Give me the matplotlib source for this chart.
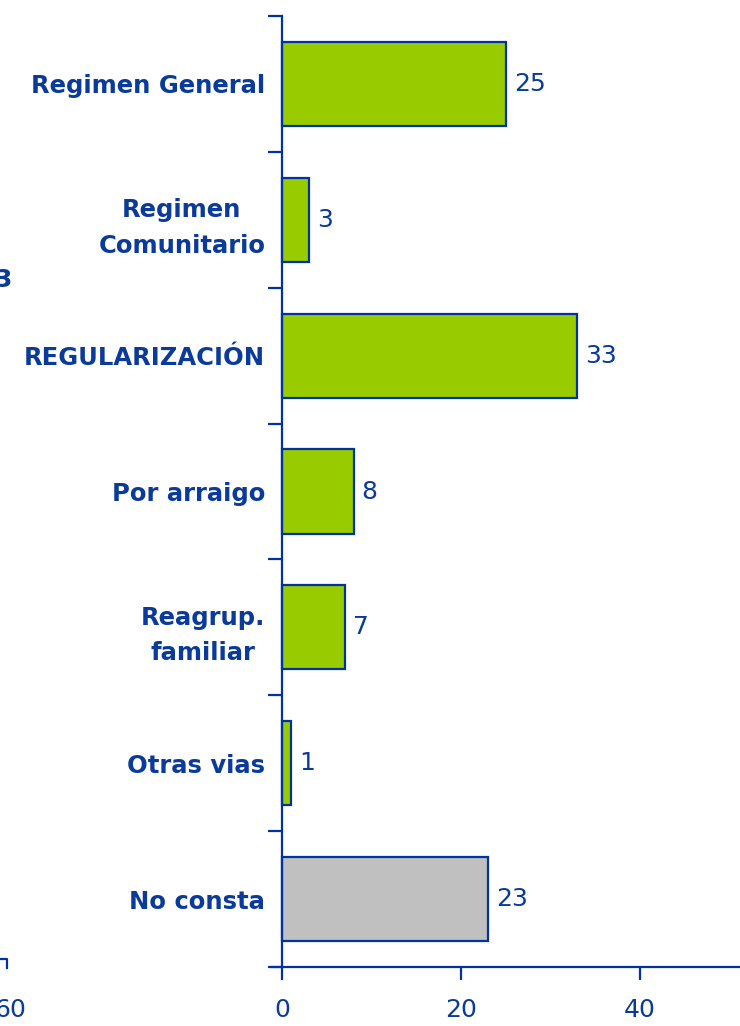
import matplotlib.pyplot as plt

categories = ['Regimen General', 'Regimen\nComunitario', 'REGULARIZACIÓN', 'Por arraigo',
              'Reagrup.\nfamiliar', 'Otras vias', 'No consta']
values = [25, 3, 33, 8, 7, 1, 23]
colors = ['#99CC00'] * 6 + ['#C0C0C0']
xticks = [0, 20, 40]

blue = '#0A3A9A'
edge = '#0033A0'

fig = plt.figure(figsize=(7.4, 10.26), dpi=100)
W, H = 740, 1026
ax = fig.add_axes([272 / W, (H - 967) / H, (W - 272) / W, (967 - 16) / H])

n = len(categories)
pos = list(range(n))
ax.barh(pos, values, height=0.62, color=colors, edgecolor=edge, linewidth=1.6)
ax.set_ylim(n - 0.5, -0.5)
ax.set_xlim(-10 / 8.95, (W - 282) / 8.95)

for s in ['top', 'right']:
    ax.spines[s].set_visible(False)
ax.spines['left'].set_position(('data', 0))
for s in ['left', 'bottom']:
    ax.spines[s].set_color(edge)
    ax.spines[s].set_linewidth(1.6)

ax.set_yticks(pos)
ax.set_yticklabels(categories, fontsize=17.5, fontweight='bold', color=blue,
                   multialignment='center', linespacing=1.6)
ax.tick_params(axis='y', which='major', length=0, pad=12)
ax.set_yticks([i - 0.5 for i in range(n + 1)], minor=True)
ax.tick_params(axis='y', which='minor', length=10, width=1.6, color=edge, direction='out')

ax.set_xticks(xticks)
ax.set_xticklabels([str(t) for t in xticks], fontsize=18, color=blue)
ax.tick_params(axis='x', length=9, width=1.6, color=edge, pad=13)

for i, v in enumerate(values):
    ax.text(v + 0.9, i, str(v), va='center', ha='left', fontsize=18, color=blue)

# fragments of the neighbouring chart at the left edge
fig.text(-0.008, (H - 280) / H, '3', fontsize=18, color=blue, fontweight='bold',
         ha='left', va='center')
fig.text(-0.008, (H - 1010) / H, '60', fontsize=18, color=blue, ha='left', va='center')
fig.add_artist(plt.Line2D([0, 7 / W, 7 / W], [(H - 959) / H, (H - 959) / H, (H - 968) / H],
                          color=edge, linewidth=1.6))

fig.savefig('out.png', dpi=100)
